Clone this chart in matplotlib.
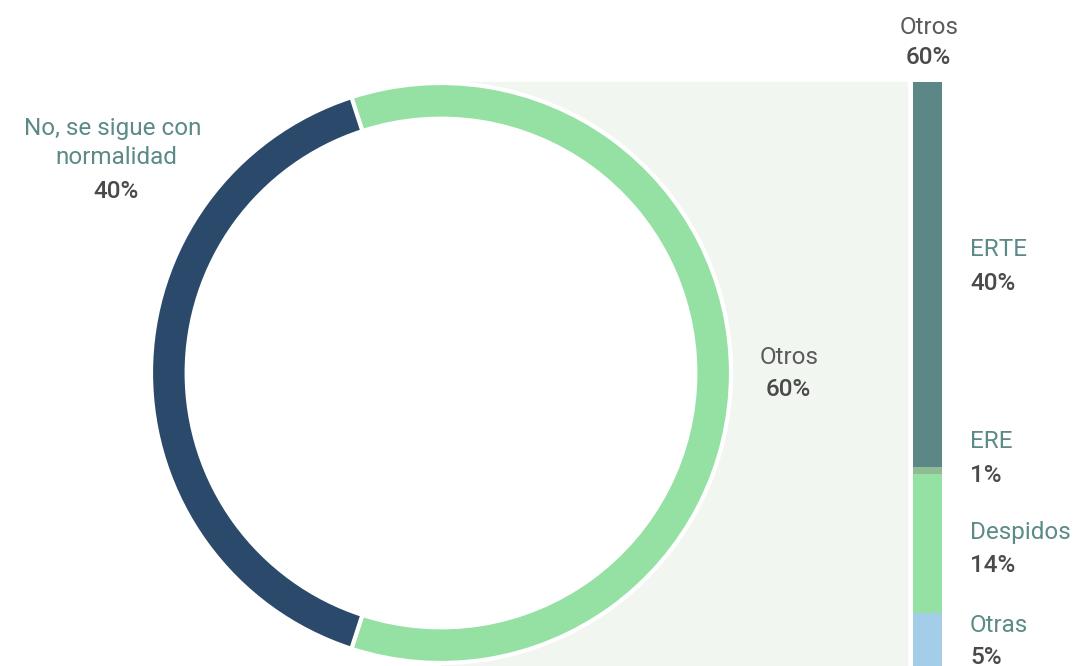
import matplotlib
matplotlib.use("Agg")
import matplotlib.pyplot as plt
from matplotlib.patches import Rectangle, Circle

plt.rcParams['font.family'] = ['Roboto', 'DejaVu Sans']

# donut data
donut_labels = ['Otros', 'No, se sigue con\nnormalidad']
donut_values = [60, 40]
donut_colors = ['#95e0a3', '#2b4a6b']

# breakdown of "Otros"
bar_labels = ['ERTE', 'ERE', 'Despidos', 'Otras']
bar_values = [39.6, 0.7, 14.3, 5.4]
bar_pcts = ['40%', '1%', '14%', '5%']
bar_colors = ['#5b8886', '#8fbb95', '#95e0a3', '#a4cdea']

W, H = 1082, 666
fig = plt.figure(figsize=(W / 100, H / 100), dpi=100)

def fx(px):
    return px / W

def fy(py):
    return 1 - py / H

label_col = '#5b8a87'
pct_col = '#4a4a4a'
gray_col = '#5a5a5a'

# shaded connector behind donut
fig.patches.append(Rectangle((fx(441), fy(666)), fx(907) - fx(441), fy(82) - fy(666),
                             transform=fig.transFigure, color='#f1f7f0', zorder=-1))

# donut
ring = 0.123
ax = fig.add_axes([fx(151), 3 / H, 580 / W, 580 / H])
ax.set_zorder(2)
ax.add_patch(Circle((0, 0), 1 - ring, color='white', zorder=0))
ax.pie(donut_values, colors=donut_colors, startangle=-108, counterclock=True,
       radius=1, wedgeprops=dict(width=ring, edgecolor='white', linewidth=3))
ax.set_xlim(-1, 1)
ax.set_ylim(-1, 1)
ax.set_aspect('equal')
ax.axis('off')

# stacked bar
bx = fig.add_axes([fx(913), 0, 29 / W, 584 / H])
bottom = 0
for v, c in zip(bar_values, bar_colors):
    bx.bar(0, v, bottom=bottom, width=1, color=c, linewidth=0)
    bottom += v
bx.set_xlim(-0.5, 0.5)
bx.set_ylim(0, sum(bar_values))
bx.invert_yaxis()
bx.axis('off')

fs = 17.5
lw = 'normal'
pw = 'medium'

# donut labels
fig.text(fx(113), fy(129), 'No, se sigue con', color=label_col, fontsize=fs,
         ha='center', va='center', fontweight=lw)
fig.text(fx(116), fy(158), 'normalidad', color=label_col, fontsize=fs,
         ha='center', va='center', fontweight=lw)
fig.text(fx(116), fy(191), '40%', color=pct_col, fontsize=fs,
         ha='center', va='center', fontweight=pw)

fig.text(fx(789), fy(358), donut_labels[0], color=gray_col, fontsize=fs,
         ha='center', va='center', fontweight=lw)
fig.text(fx(788), fy(389), '60%', color=pct_col, fontsize=fs,
         ha='center', va='center', fontweight=pw)

# bar header
fig.text(fx(929), fy(27), 'Otros', color=gray_col, fontsize=fs,
         ha='center', va='center', fontweight=lw)
fig.text(fx(928), fy(57), '60%', color=pct_col, fontsize=fs,
         ha='center', va='center', fontweight=pw)

# bar labels
label_y = [250, 442, 533, 625]
for lab, pct, y in zip(bar_labels, bar_pcts, label_y):
    fig.text(fx(970), fy(y), lab, color=label_col, fontsize=fs,
             ha='left', va='center', fontweight=lw)
    fig.text(fx(970), fy(y + 33), pct, color=pct_col, fontsize=fs,
             ha='left', va='center', fontweight=pw)

fig.savefig('out.png', dpi=100)
